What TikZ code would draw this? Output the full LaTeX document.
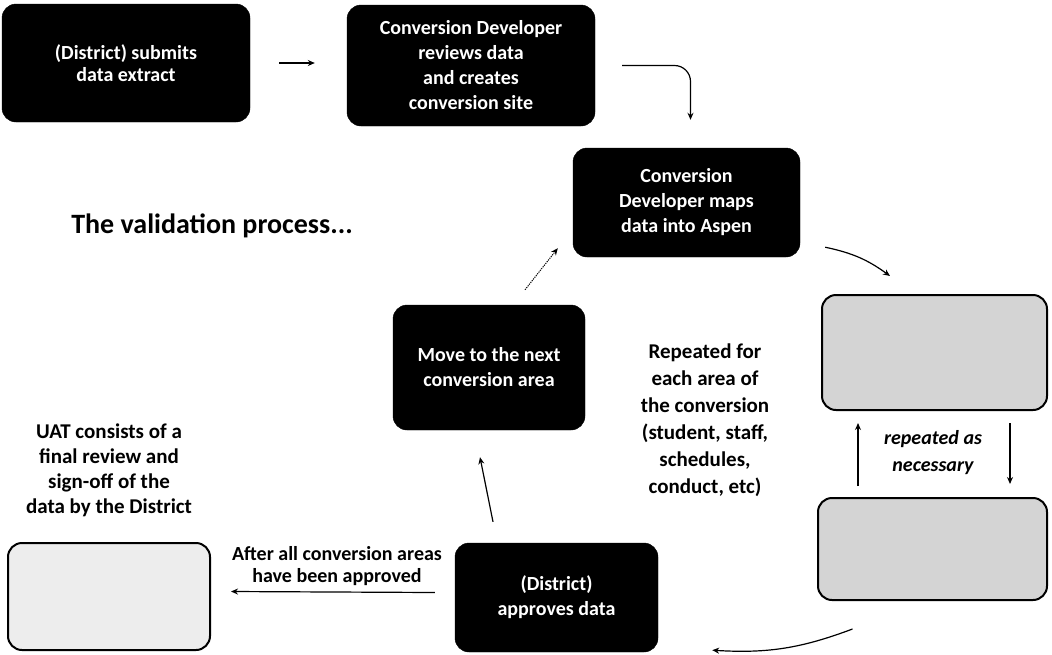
\documentclass[tikz,border=0pt]{standalone}
\usepackage{fontspec}
\setmainfont{Carlito}
\usetikzlibrary{arrows.meta}
\newcommand\boxfnt{\bfseries\fontsize{20}{25}\selectfont}
\newcommand\lblfnt{\bfseries\fontsize{21}{25}\selectfont}
\begin{document}
\begin{tikzpicture}[x=1pt,y=-1pt,
  darkbox/.style={rectangle, rounded corners=14pt, draw=black, fill=black, text=white,
    font=\boxfnt, align=center, inner sep=0pt},
  stipple/.style={rectangle, rounded corners=14pt, draw=black, line width=2pt, fill=black!17},
  lightstipple/.style={stipple, fill=black!7},
  lbl/.style={font=\lblfnt, align=center, text=black, inner sep=0pt},
  arr/.style={-{Stealth[length=7pt,width=6pt]}, line width=1.2pt},
  ]
\useasboundingbox (0,0) rectangle (1052,654);

% main boxes
\node[darkbox, minimum width=248pt, minimum height=118pt, font=\bfseries\fontsize{20}{22}\selectfont] (A) at (126,63) {(District) submits\\data extract};
\node[darkbox, minimum width=248pt, minimum height=121pt] (B) at (471,65.5) {Conversion Developer\\reviews data\\and creates\\conversion site};
\node[darkbox, minimum width=227pt, minimum height=109pt] (C) at (686.5,202.5) {Conversion\\Developer maps\\data into Aspen};
\node[darkbox, minimum width=192pt, minimum height=125pt] (move) at (489,367.5) {Move to the next\\conversion area};
\node[darkbox, minimum width=203pt, minimum height=109pt] (appr) at (556.5,597.5) {(District)\\approves data};
\node[stipple, minimum width=225pt, minimum height=115pt] (g1) at (934.5,352.5) {};
\node[stipple, minimum width=229pt, minimum height=102pt] (g2) at (932.5,549) {};
\node[lightstipple, minimum width=202pt, minimum height=107pt] (uat) at (109,596.5) {};

% labels
\node[lbl, font=\bfseries\fontsize{28}{32}\selectfont] (title) at (212,226) {The validation process...};
\node[lbl, font=\bfseries\fontsize{21}{27}\selectfont] (rep) at (705,420.5) {Repeated for\\each area of\\the conversion\\(student, staff,\\schedules,\\conduct, etc)};
\node[lbl] (uattxt) at (109,470) {UAT consists of a\\final review and\\sign-off of the\\data by the District};
\node[lbl, font=\bfseries\fontsize{20}{22}\selectfont] (after) at (337,566) {After all conversion areas\\have been approved};
\node[lbl, font=\bfseries\itshape\fontsize{20}{27}\selectfont] (rpt) at (933,453) {repeated as\\necessary};

% connectors
\draw[arr, shorten <=29pt, shorten >=32pt] (A.east) -- (A.east -| B.west);
\draw[arr, rounded corners=16pt, shorten <=27pt] (B.east) -| ([shift={(4,-28)}]C.north);
\draw[arr] ([shift={(25,-10)}]C.south east) to[bend left=12] ([shift={(-44.5,-18)}]g1.north);
\draw[arr] ([shift={(-74.5,-11)}]g2.north) -- ([shift={(-76.5,12)}]g1.south);
\draw[arr] ([shift={(75.5,12)}]g1.south) -- ([shift={(77.5,-13)}]g2.north);
\draw[arr] ([shift={(-80,28)}]g2.south) to[bend left=12] ([shift={(54,-2)}]appr.south east);
\draw[arr] ([shift={(-63.5,-21)}]appr.north) -- ([shift={(-9,27)}]move.south);
\draw[arr] ([shift={(-20,-5)}]appr.west) -- ([shift={(20,-5)}]uat.east);
\draw[arr, densely dotted, line width=1pt] ([shift={(36,-15)}]move.north) -- ([shift={(-15,-9)}]C.south west);
\end{tikzpicture}
\end{document}
